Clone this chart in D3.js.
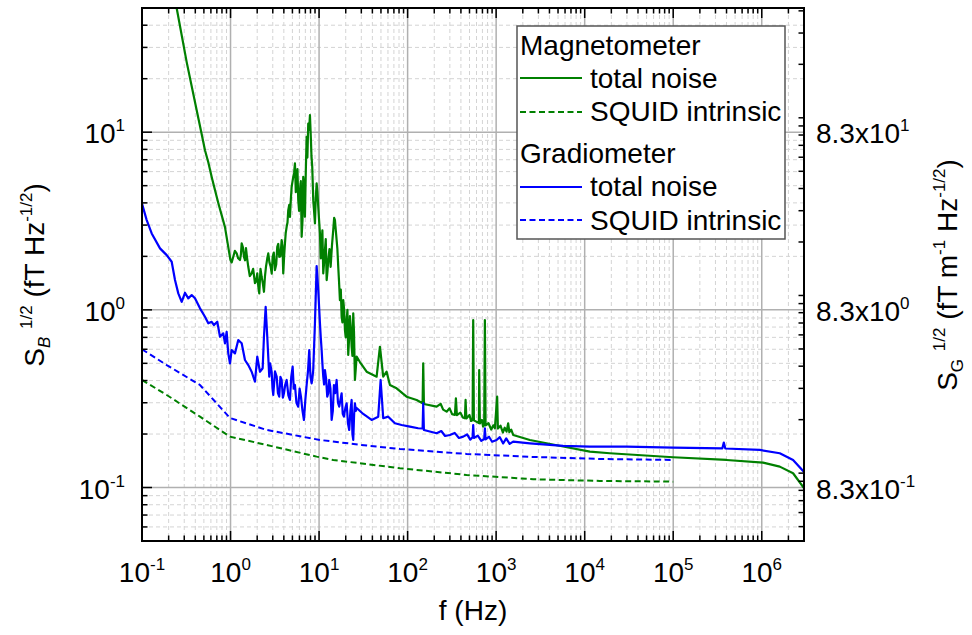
<!DOCTYPE html>
<html>
<head>
<meta charset="utf-8">
<script src="https://cdn.jsdelivr.net/npm/d3@7"></script>
<style>
  body { margin: 0; background: #fff; }
  text { font-family: "Liberation Sans", Arial, sans-serif; fill: #000; }
</style>
</head>
<body>
<svg id="chart" width="972" height="635"></svg>
<script>
// ---- data: [frequency (Hz), noise (fT Hz^-1/2)] ----
const magTotal = [
  [0.23,55.3],[0.2465,49.8],[0.3197,24.8],[0.4146,13.3],[0.4673,10],[0.5144,7.92],[0.5607,6.78],
  [0.6172,5.51],[0.7271,3.99],[0.8654,2.92],[0.9676,2.087],[0.998,1.906],[1.03,1.85],[1.074,1.989],
  [1.12,2.15],[1.173,2.079],[1.22,1.95],[1.278,1.906],[1.31,2.05],[1.336,2.366],[1.38,2.25],[1.418,1.989],
  [1.46,1.9],[1.494,2.227],[1.54,1.95],[1.586,1.747],[1.65,1.55],[1.732,1.604],[1.8,1.7],[1.887,1.415],
  [1.95,1.45],[2.004,1.604],[2.06,1.35],[2.111,1.238],[2.18,1.7],[2.246,1.535],[2.32,1.4],[2.385,1.264],
  [2.45,1.55],[2.513,1.747],[2.6,1.95],[2.668,2.079],[2.75,1.85],[2.84,1.747],[2.92,1.6],[2.99,1.989],
  [3.08,2.1],[3.176,1.674],[3.28,1.8],[3.371,2.264],[3.46,2.35],[3.55,1.989],[3.66,2.0],[3.779,2.47],
  [3.86,2.3],[3.939,1.604],[4.03,2.0],[4.118,2.366],[4.2,2.7],[4.304,2.934],[4.4,3.1],[4.487,3.641],
  [4.6,3.9],[4.69,3.339],[4.8,4.2],[4.901,4.925],[5.109,5.606],[5.22,5.9],[5.34,6.668],[5.46,4.6],
  [5.582,5.146],[5.7,6.2],[5.819,4.145],[5.95,3.6],[6.081,4.718],[6.22,5.3],[6.356,2.577],[6.5,3.2],
  [6.625,5.606],[6.78,4.9],[6.924,3.339],[7.08,6.0],[7.237,9.41],[7.38,7.2],[7.545,11.19],[7.72,10.3],
  [7.886,12.46],[8.093,9.02],[8.2,7.4],[8.372,6.38],[8.48,5.2],[8.591,4.145],[8.78,3.6],[8.982,3.065],
  [9.18,4.3],[9.387,5.146],[9.58,4.6],[9.786,3.801],[10.0,3.2],[10.23,2.693],[10.45,1.95],[10.69,2.366],
  [10.9,2.8],[11.15,1.604],[11.4,1.85],[11.65,2.169],[11.9,2.5],[12.18,1.471],[12.45,1.65],[12.69,1.906],
  [13.1,2.2],[13.51,1.747],[13.98,2.3],[14.45,2.811],[14.8,3.3],[15.11,3.2],[15.45,2.8],[15.79,2.47],
  [16.1,2.2],[16.46,1.747],[16.8,1.45],[17.2,1.135],[17.6,1.3],[17.98,0.915],[18.35,0.85],[18.75,1.135],
  [19.2,1.0],[19.6,0.77],[20.0,0.7],[20.48,0.876],[20.9,1.0],[21.35,0.557],[21.8,0.68],[22.32,0.923],
  [22.8,0.8],[23.33,0.62],[23.8,0.55],[24.32,0.956],[24.8,0.75],[25.41,0.403],[26.0,0.47],[26.56,0.545],
  [28.93,0.5085],[34.45,0.4485],[44.67,0.4205],[48.68,0.62],[53.03,0.4205],[57.93,0.4485],
  [63.12,0.3776],[75.1,0.3618],[97.4,0.3245],[126.4,0.311],[147.7,0.298],[150.1,0.5001],[152.8,0.2953],
  [212.6,0.2851],[236,0.296],[252,0.2745],[275.7,0.2673],[298,0.279],[318,0.259],[342.1,0.2561],
  [351.1,0.3179],[360.4,0.2553],[395,0.264],[420,0.248],[443.6,0.2454],[451.7,0.311],[461.3,0.2449],
  [500,0.256],[520,0.237],[542,0.24],[550.6,0.876],[560.7,0.2387],[638.5,0.2308],[643.5,0.4585],
  [655.3,0.2295],[690,0.24],[712,0.22],[732.8,0.2249],[746.1,0.876],[759.8,0.2235],[820,0.23],
  [880,0.212],[930,0.224],[967.6,0.2156],[1027,0.3245],[1046,0.2148],[1120,0.223],[1190,0.204],
  [1250,0.217],[1312,0.2063],[1367,0.2299],[1410,0.2047],[1480,0.212],[1557,0.1976],[2404,0.1852],
  [5714,0.1702],[11440,0.1591],[19240,0.1559],[99770,0.148],[399900,0.1429],[1035000,0.138],
  [1598000,0.1311],[2258000,0.1203],[2983000,0.0995]
];
const magSquid = [
  [0.1,0.403],[0.1901,0.3318],[0.4518,0.2505],[0.9854,0.1933],[2.559,0.1736],[9.387,0.1492],
  [14.45,0.1429],[81.87,0.1284],[463.7,0.1177],[2620,0.1113],[14840,0.1089],[100000,0.1079]
];
const gradTotal = [
  [0.1,3.962],[0.113,3.2],[0.1287,2.693],[0.1597,2.218],[0.1901,2.033],[0.2164,1.865],[0.2359,1.471],
  [0.257,1.238],[0.2807,1.11],[0.3058,1.248],[0.3333,1.161],[0.3641,1.211],[0.3967,1.161],[0.4518,1.02],
  [0.5144,0.915],[0.5607,0.84],[0.6124,0.857],[0.6501,0.821],[0.7083,0.857],[0.76,0.706],[0.8279,0.7375],
  [0.8654,0.648],[0.9043,0.753],[0.9428,0.569],[0.9854,0.5],[1.03,0.594],[1.122,0.569],[1.223,0.676],
  [1.336,0.648],[1.455,0.522],[1.586,0.489],[1.732,0.4485],[1.887,0.394],[2.004,0.545],[2.149,0.4485],
  [2.306,0.469],[2.385,0.706],[2.493,1.041],[2.599,0.706],[2.737,0.4205],[2.8,0.5],[2.914,0.4485],
  [2.98,0.36],[3.038,0.3318],[3.18,0.45],[3.319,0.4205],[3.43,0.34],[3.55,0.3245],[3.66,0.42],
  [3.779,0.403],[3.9,0.32],[4.011,0.339],[4.15,0.38],[4.304,0.403],[4.5,0.33],[4.69,0.311],[4.85,0.42],
  [5.03,0.4786],[5.18,0.36],[5.34,0.3776],[5.55,0.3],[5.819,0.2851],[6.03,0.36],[6.242,0.3245],
  [6.5,0.27],[6.747,0.24],[6.99,0.31],[7.237,0.3776],[7.49,0.45],[7.745,0.594],[8.0,0.42],[8.243,0.386],
  [8.4,0.41],[8.591,0.4585],[8.982,0.84],[9.387,1.763],[9.786,1.292],[10.23,0.84],[10.45,0.7],
  [10.69,0.594],[10.9,0.5],[11.15,0.4205],[11.4,0.38],[11.65,0.4585],[12.0,0.41],[12.37,0.3245],
  [12.7,0.34],[13.02,0.403],[13.45,0.36],[13.87,0.24],[14.3,0.27],[14.72,0.3776],[15.2,0.34],
  [15.79,0.403],[16.35,0.3],[16.89,0.2851],[17.4,0.31],[17.98,0.339],[18.5,0.26],[19.09,0.2505],
  [19.8,0.28],[20.48,0.298],[21.2,0.23],[21.91,0.2108],[22.6,0.27],[23.33,0.311],[23.8,0.2],
  [24.32,0.1852],[24.9,0.26],[25.41,0.298],[26.0,0.27],[26.56,0.2804],[31.53,0.2594],[39.22,0.24],
  [46.57,0.2505],[49.57,0.403],[53.03,0.2454],[60.39,0.2505],[71.88,0.2299],[85.55,0.2249],
  [106.2,0.2201],[131.7,0.2156],[147.7,0.2148],[150.1,0.298],[152.8,0.2108],[212.6,0.202],[240,0.208],
  [265,0.195],[300.4,0.1976],[340,0.203],[380,0.19],[424.4,0.1933],[470,0.199],[510,0.186],[542,0.1918],
  [550.6,0.2249],[560.7,0.19],[620,0.196],[680,0.183],[732.8,0.1876],[746.1,0.2156],[759.8,0.1866],
  [830,0.193],[900,0.181],[1012,0.1852],[1100,0.192],[1200,0.177],[1300,0.189],[1420,0.176],
  [1557,0.1812],[2404,0.1774],[5714,0.1714],[11440,0.1698],[29700,0.1698],[99770,0.1677],
  [358400,0.166],[372700,0.1789],[387500,0.1658],[950200,0.1628],[1598000,0.1559],[2258000,0.1429],
  [2983000,0.1228]
];
const gradSquid = [
  [0.1,0.6],[0.1901,0.489],[0.4518,0.3776],[0.9854,0.2463],[2.559,0.2108],[10.23,0.1852],
  [37.52,0.1714],[81.87,0.1649],[463.7,0.1545],[2620,0.1486],[14840,0.1448],[100000,0.1429]
];

// ---- axes ----
const xDomain = [0.1, 3e6];
const yDomain = [0.05, 50];
const xMajorExps = [-1, 0, 1, 2, 3, 4, 5, 6];
const yMajorExps = [-1, 0, 1];
const gradFactor = 8.3;           // right axis = left axis x 8.3
const gradMantissa = "8.3x10";
const xTitle = "f (Hz)";
const legendGroups = ["Magnetometer", "Gradiometer"];
const legendItems = ["total noise", "SQUID intrinsic"];

const GREEN = "#008000", BLUE = "#0000ff";
const FS = 28, SUP = 17;
const M = { left: 142, right: 804, top: 8, bottom: 541 };

const svg = d3.select("#chart");
const x = d3.scaleLog().domain(xDomain).range([M.left, M.right]);
const y = d3.scaleLog().domain(yDomain).range([M.bottom, M.top]);
const yR = d3.scaleLog().domain(yDomain.map(v => v * gradFactor)).range([M.bottom, M.top]);

const isMajor = v => Math.abs(Math.log10(v) - Math.round(Math.log10(v))) < 1e-9;
const xTicks = x.ticks();
const yTicks = y.ticks();

// grid
const grid = svg.append("g");
xTicks.filter(v => !isMajor(v) && x(v) > M.left + 1 && x(v) < M.right - 1).forEach(v => {
  grid.append("line").attr("x1", x(v)).attr("x2", x(v)).attr("y1", M.top).attr("y2", M.bottom)
    .attr("stroke", "#d4d4d4").attr("stroke-width", 1).attr("stroke-dasharray", "4,3");
});
yTicks.filter(v => !isMajor(v) && y(v) > M.top + 1 && y(v) < M.bottom - 1).forEach(v => {
  grid.append("line").attr("x1", M.left).attr("x2", M.right).attr("y1", y(v)).attr("y2", y(v))
    .attr("stroke", "#d4d4d4").attr("stroke-width", 1).attr("stroke-dasharray", "4,3");
});
xTicks.filter(v => isMajor(v) && x(v) > M.left + 1).forEach(v => {
  grid.append("line").attr("x1", x(v)).attr("x2", x(v)).attr("y1", M.top).attr("y2", M.bottom)
    .attr("stroke", "#b0b0b0").attr("stroke-width", 1.5);
});
yTicks.filter(v => isMajor(v)).forEach(v => {
  grid.append("line").attr("x1", M.left).attr("x2", M.right).attr("y1", y(v)).attr("y2", y(v))
    .attr("stroke", "#b0b0b0").attr("stroke-width", 1.5);
});

// data
svg.append("clipPath").attr("id", "plotClip").append("rect")
  .attr("x", M.left).attr("y", M.top).attr("width", M.right - M.left).attr("height", M.bottom - M.top);
const byFreq = s => d3.sort(s, d => d[0]);
const line = d3.line().x(d => x(d[0])).y(d => y(d[1]));
const plot = svg.append("g").attr("clip-path", "url(#plotClip)").attr("fill", "none");
plot.append("path").datum(byFreq(magSquid)).attr("d", line).attr("stroke", GREEN).attr("stroke-width", 2).attr("stroke-dasharray", "6,3.5");
plot.append("path").datum(byFreq(gradSquid)).attr("d", line).attr("stroke", BLUE).attr("stroke-width", 2).attr("stroke-dasharray", "6,3.5");
plot.append("path").datum(byFreq(magTotal)).attr("d", line).attr("stroke", GREEN).attr("stroke-width", 2.2).attr("stroke-linejoin", "round");
plot.append("path").datum(byFreq(gradTotal)).attr("d", line).attr("stroke", BLUE).attr("stroke-width", 2.2).attr("stroke-linejoin", "round");

// ticks (inward on all four sides)
const tk = svg.append("g").attr("stroke", "#000").attr("stroke-width", 1.5);
xTicks.forEach(v => {
  const L = isMajor(v) ? 10 : 5.5;
  tk.append("line").attr("x1", x(v)).attr("x2", x(v)).attr("y1", M.bottom).attr("y2", M.bottom - L);
  tk.append("line").attr("x1", x(v)).attr("x2", x(v)).attr("y1", M.top).attr("y2", M.top + L);
});
yTicks.forEach(v => {
  const L = isMajor(v) ? 10 : 5.5;
  tk.append("line").attr("x1", M.left).attr("x2", M.left + L).attr("y1", y(v)).attr("y2", y(v));
});
yR.ticks().forEach(v => {
  const L = isMajor(v / gradFactor) ? 10 : 5.5;
  tk.append("line").attr("x1", M.right).attr("x2", M.right - L).attr("y1", yR(v)).attr("y2", yR(v));
});

// frame
svg.append("rect").attr("x", M.left).attr("y", M.top).attr("width", M.right - M.left).attr("height", M.bottom - M.top)
  .attr("fill", "none").attr("stroke", "#000").attr("stroke-width", 2);

// rich text helper: parts = [[text, "sup"|"sub"|"subi"|null], ...]
function rich(sel, parts, size) {
  let shift = 0;
  parts.forEach(([t, kind]) => {
    const target = kind === "sup" ? -0.42 * size : (kind === "sub" || kind === "subi") ? 0.22 * size : 0;
    const ts = sel.append("tspan").attr("dy", target - shift).text(t);
    if (kind) ts.attr("font-size", SUP);
    if (kind === "subi") ts.attr("font-style", "italic");
    shift = target;
  });
}

// tick labels
xMajorExps.forEach(e => {
  const t = svg.append("text").attr("x", x(Math.pow(10, e))).attr("y", 582).attr("text-anchor", "middle").attr("font-size", FS);
  rich(t, [["10", null], [String(e), "sup"]], FS);
});
yMajorExps.forEach(e => {
  const t = svg.append("text").attr("x", 125).attr("y", y(Math.pow(10, e)) + 11).attr("text-anchor", "end").attr("font-size", FS);
  rich(t, [["10", null], [String(e), "sup"]], FS);
  const r = svg.append("text").attr("x", 816).attr("y", yR(gradFactor * Math.pow(10, e)) + 11).attr("font-size", FS);
  rich(r, [[gradMantissa, null], [String(e), "sup"]], FS);
});

// axis titles
svg.append("text").attr("x", (M.left + M.right) / 2).attr("y", 620).attr("text-anchor", "middle").attr("font-size", FS).text(xTitle);
const yl = svg.append("text").attr("transform", "translate(44,275) rotate(-90)").attr("text-anchor", "middle").attr("font-size", FS);
rich(yl, [["S", null], ["B", "subi"], [" ", null], ["1/2", "sup"], [" (fT Hz", null], ["-1/2", "sup"], [")", null]], FS);
const yr = svg.append("text").attr("transform", "translate(957,275) rotate(-90)").attr("text-anchor", "middle").attr("font-size", FS);
rich(yr, [["S", null], ["G", "sub"], [" ", null], ["1/2", "sup"], [" (fT m", null], ["-1", "sup"], [" Hz", null], ["-1/2", "sup"], [")", null]], FS);

// legend
const lg = svg.append("g");
lg.append("rect").attr("x", 517).attr("y", 26).attr("width", 268).attr("height", 213)
  .attr("fill", "#fff").attr("stroke", "#555").attr("stroke-width", 1.5);
const rows = [
  { y: 55, head: legendGroups[0] },
  { y: 88, lineY: 78, color: GREEN, dash: null, label: legendItems[0] },
  { y: 121, lineY: 112, color: GREEN, dash: "6,3.5", label: legendItems[1] },
  { y: 163, head: legendGroups[1] },
  { y: 196, lineY: 187, color: BLUE, dash: null, label: legendItems[0] },
  { y: 230, lineY: 220, color: BLUE, dash: "6,3.5", label: legendItems[1] }
];
rows.forEach(r => {
  if (r.head) {
    lg.append("text").attr("x", 520).attr("y", r.y).attr("font-size", FS).text(r.head);
  } else {
    lg.append("line").attr("x1", 520).attr("x2", 582).attr("y1", r.lineY).attr("y2", r.lineY)
      .attr("stroke", r.color).attr("stroke-width", 2).attr("stroke-dasharray", r.dash);
    lg.append("text").attr("x", 590).attr("y", r.y).attr("font-size", FS).text(r.label);
  }
});
</script>
</body>
</html>
